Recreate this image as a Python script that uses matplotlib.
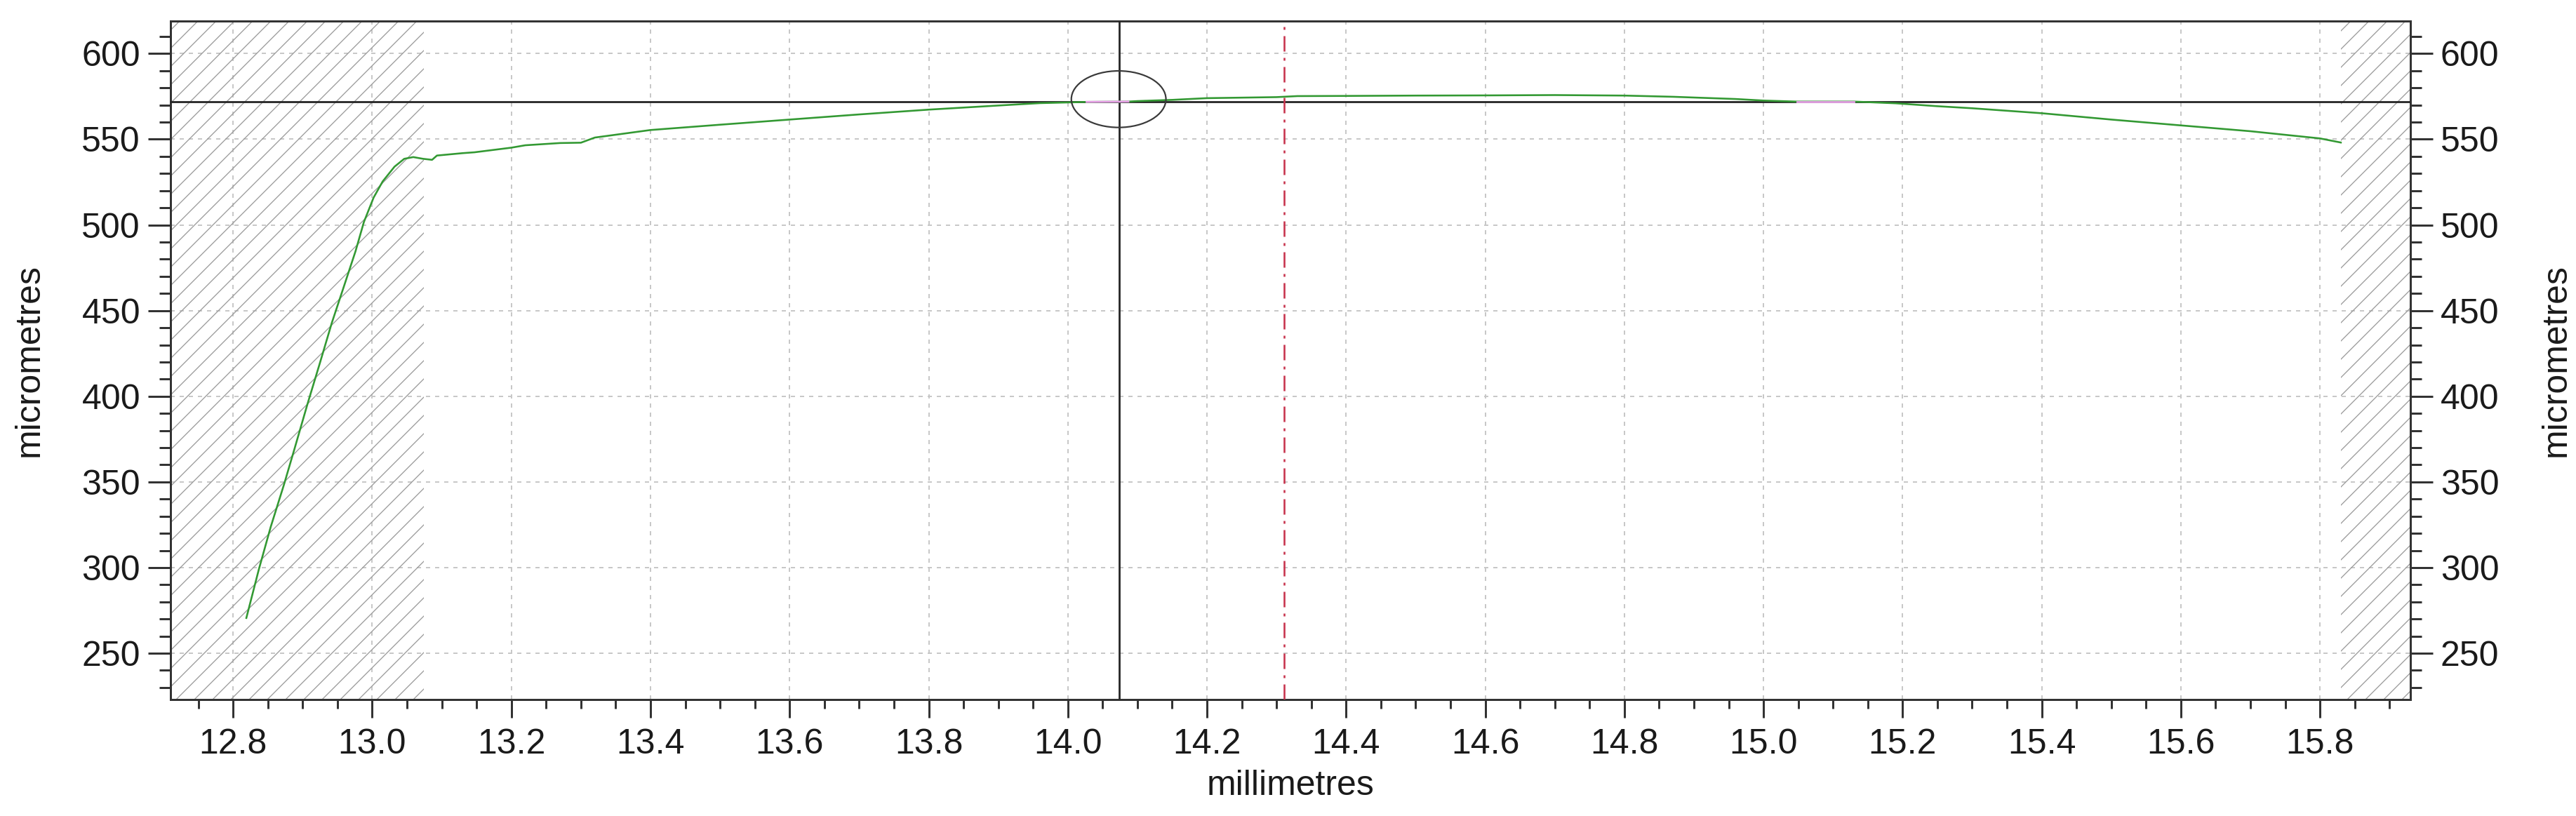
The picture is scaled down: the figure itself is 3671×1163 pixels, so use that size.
import numpy as np
import matplotlib
matplotlib.use("Agg")
import matplotlib.pyplot as plt
from matplotlib.patches import Ellipse
from matplotlib.ticker import FixedLocator, MultipleLocator, FormatStrFormatter

# ---------------- data ----------------
profile_x = [12.819, 12.837, 12.854, 12.873, 12.888, 12.907, 12.924, 12.942, 12.959,
             12.976, 12.988, 13.002, 13.015, 13.032, 13.046, 13.059, 13.073, 13.086,
             13.093, 13.130, 13.147, 13.200, 13.220, 13.270, 13.300, 13.320, 13.400,
             13.500, 13.600, 13.700, 13.800, 13.900, 13.960, 14.000, 14.027, 14.087,
             14.100, 14.150, 14.200, 14.250, 14.300, 14.330, 14.400, 14.500, 14.600,
             14.700, 14.800, 14.870, 14.960, 15.000, 15.048, 15.130, 15.190, 15.250,
             15.300, 15.400, 15.500, 15.600, 15.700, 15.800, 15.830]
profile_y = [270.6, 299.0, 323.7, 348.3, 369.0, 395.6, 418.4, 443.0, 463.8,
             484.7, 501.7, 516.0, 525.4, 534.0, 538.6, 539.6, 538.6, 538.0,
             540.5, 541.9, 542.4, 545.1, 546.5, 547.8, 548.0, 551.0, 555.4,
             558.5, 561.5, 564.5, 567.3, 569.7, 571.1, 571.5, 571.8, 572.0,
             572.3, 573.0, 574.0, 574.3, 574.6, 575.2, 575.3, 575.5, 575.6,
             575.8, 575.5, 574.8, 573.5, 572.6, 572.0, 572.0, 571.0, 569.3,
             568.1, 565.2, 561.5, 558.1, 554.7, 550.5, 548.1]

x_limits = (12.71, 15.93)
y_limits = (223.0, 619.0)
x_ticks = [12.8, 13.0, 13.2, 13.4, 13.6, 13.8, 14.0, 14.2, 14.4, 14.6, 14.8,
           15.0, 15.2, 15.4, 15.6, 15.8]
y_ticks = [250, 300, 350, 400, 450, 500, 550, 600]
x_minor_step = 0.05
y_minor_step = 10

excluded_left = (12.71, 13.074)
excluded_right = (15.83, 15.93)
cursor_x = 14.074
cursor_y = 572.0
marker_x = 14.311
ellipse_center = (14.073, 573.4)
ellipse_size = (0.136, 33.0)
pink_ranges = [(14.027, 14.087), (15.048, 15.130)]

x_label = "millimetres"
y_label = "micrometres"

# ---------------- styling ----------------
DPI = 78
PX = 72.0 / DPI  # points per pixel
W, H = 3671, 1163

plt.rcParams["font.family"] = ["Liberation Sans", "DejaVu Sans"]
plt.rcParams["font.size"] = 50 * PX
plt.rcParams["lines.scale_dashes"] = False
plt.rcParams["hatch.linewidth"] = 1.3 * PX
plt.rcParams["hatch.color"] = "#9a9a9a"

fig = plt.figure(figsize=(W / DPI, H / DPI), dpi=DPI)
ax_left, ax_right, ax_top, ax_bottom = 243, 3435, 30, 997
ax = fig.add_axes([ax_left / W, 1 - ax_bottom / H,
                   (ax_right - ax_left) / W, (ax_bottom - ax_top) / H])

ax.set_xlim(*x_limits)
ax.set_ylim(*y_limits)

ax.xaxis.set_major_locator(FixedLocator(x_ticks))
ax.xaxis.set_minor_locator(MultipleLocator(x_minor_step))
ax.xaxis.set_major_formatter(FormatStrFormatter("%.1f"))
ax.yaxis.set_major_locator(FixedLocator(y_ticks))
ax.yaxis.set_minor_locator(MultipleLocator(y_minor_step))
ax.yaxis.set_major_formatter(FormatStrFormatter("%d"))

spine_col = "#333333"
for s in ax.spines.values():
    s.set_linewidth(3 * PX)
    s.set_color(spine_col)

ax.tick_params(axis="both", which="both", direction="out", color=spine_col,
               width=3 * PX, labelcolor="#1a1a1a")
ax.tick_params(axis="y", which="both", left=True, right=True,
               labelleft=True, labelright=True)
ax.tick_params(axis="y", which="major", length=32 * PX, pad=11 * PX)
ax.tick_params(axis="y", which="minor", length=16 * PX)
ax.tick_params(axis="x", which="major", length=26 * PX, pad=15 * PX)
ax.tick_params(axis="x", which="minor", length=13 * PX)

ax.grid(True, which="major", axis="both", color="#c8c8c8",
        linestyle=(0, (6 * PX, 7 * PX)), linewidth=2 * PX, zorder=0)
ax.set_axisbelow(True)

# hatched excluded zones
for span in (excluded_left, excluded_right):
    ax.axvspan(span[0], span[1], facecolor="none", edgecolor="#9a9a9a",
               hatch="/", linewidth=0, zorder=1.5)

# cursor lines
ax.axhline(cursor_y, color="#262626", linewidth=2.8 * PX, zorder=2.6)
ax.axvline(cursor_x, color="#262626", linewidth=2.8 * PX, zorder=2.6)
ax.axvline(marker_x, color="#c8344e", linewidth=2.6 * PX,
           linestyle=(0, (22 * PX, 9 * PX, 4 * PX, 9 * PX)), zorder=2.7)

# profile
px_arr = np.asarray(profile_x)
py_arr = np.asarray(profile_y)
ax.plot(px_arr, py_arr, color="#339933", linewidth=2.6 * PX, zorder=3)
for a, b in pink_ranges:
    m = (px_arr >= a) & (px_arr <= b)
    ax.plot(px_arr[m], py_arr[m], color="#e6a0e6", linewidth=2.8 * PX, zorder=4)

# ellipse around cursor
ax.add_patch(Ellipse(ellipse_center, ellipse_size[0], ellipse_size[1],
                     facecolor="none", edgecolor="#3a3a3a",
                     linewidth=2.2 * PX, zorder=5))

# labels
ax.set_xlabel(x_label, color="#1a1a1a")
ax.xaxis.label.set_va("baseline")
ax.xaxis.set_label_coords(0.5, (ax_bottom - 1133) / (ax_bottom - ax_top))

ax.set_ylabel(y_label, color="#1a1a1a")
ax.yaxis.label.set_va("center")
ax.yaxis.set_label_coords((42 - ax_left) / (ax_right - ax_left), 0.5)

ax.text((3643 - ax_left) / (ax_right - ax_left), 0.5, y_label,
        transform=ax.transAxes, rotation=90, ha="center", va="center",
        rotation_mode="anchor", color="#1a1a1a")

fig.savefig("out.png", dpi=DPI)
